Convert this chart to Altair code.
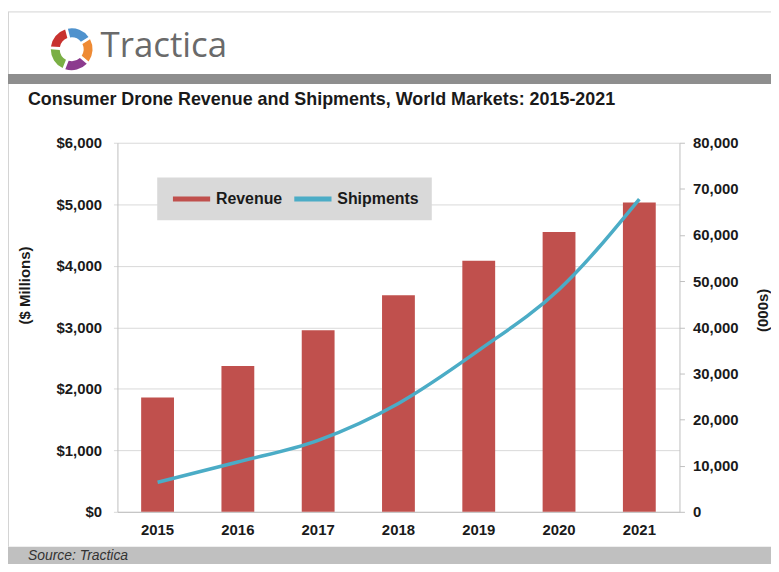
import altair as alt
import pandas as pd

# ---- data ----
years = ["2015", "2016", "2017", "2018", "2019", "2020", "2021"]
revenue = [1860, 2370, 2950, 3520, 4080, 4550, 5030]          # $ millions
shipments = [6400, 10800, 15500, 23500, 35000, 48200, 67800]   # 000s

series_names = ["Revenue", "Shipments"]
series_colors = ["#c0504d", "#4bacc6"]

logo_colors = ["#4f92cd", "#ee8a34", "#8c3b8e", "#7aaf45", "#c8322f"]

title_text = "Consumer Drone Revenue and Shipments, World Markets: 2015-2021"
brand_text = "Tractica"
source_text = "Source: Tractica"

FONT = "Liberation Sans, Arial, sans-serif"

df = pd.DataFrame({"year": years, "revenue": revenue, "shipments": shipments})

color_scale = alt.Scale(domain=series_names, range=series_colors)

x_enc = alt.X(
    "year:N",
    scale=alt.Scale(paddingInner=0, paddingOuter=0),
    axis=alt.Axis(
        title=None, labelAngle=0, ticks=False, tickSize=0, labelPadding=11,
        domainColor="#bfbfbf", labelFont=FONT, labelFontSize=15,
        labelFontWeight="bold", labelColor="#1a1a1a",
    ),
)

legend = alt.Legend(
    title=None, orient="none", legendX=40, legendY=35, direction="horizontal",
    fillColor="#d9d9d9", padding=13, symbolType="stroke", symbolSize=1400,
    symbolStrokeWidth=5, clipHeight=17,
    labelFont=FONT, labelFontSize=16, labelFontWeight="bold",
    labelColor="#1a1a1a", columnPadding=9, labelOffset=3,
)

bars = (
    alt.Chart(df)
    .transform_calculate(series="'Revenue'")
    .mark_bar(size=33)
    .encode(
        x=x_enc,
        y=alt.Y(
            "revenue:Q",
            scale=alt.Scale(domain=[0, 6000], nice=False),
            axis=alt.Axis(
                orient="left", values=list(range(0, 6001, 1000)), format="$,.0f",
                title="($ Millions)", grid=True, gridColor="#d9d9d9",
                domainColor="#bfbfbf", tickColor="#d9d9d9", tickSize=4,
                labelPadding=12, labelFont=FONT, labelFontSize=15,
                labelFontWeight="bold", labelColor="#1a1a1a",
                titleFont=FONT, titleFontSize=15, titleFontWeight="bold",
                titleColor="#1a1a1a", titleAngle=270, titleX=-85, titleY=143,
                titleBaseline="bottom", titleAlign="center",
            ),
        ),
        color=alt.Color("series:N", scale=color_scale, legend=legend),
    )
)

line = (
    alt.Chart(df)
    .transform_calculate(series="'Shipments'")
    .mark_line(strokeWidth=3.5, interpolate="monotone")
    .encode(
        x=x_enc,
        y=alt.Y(
            "shipments:Q",
            scale=alt.Scale(domain=[0, 80000], nice=False),
            axis=alt.Axis(
                orient="right", values=list(range(0, 80001, 10000)), format=",.0f",
                title="(000s)", grid=False, domainColor="#bfbfbf",
                tickColor="#bfbfbf", tickSize=5, labelPadding=8,
                labelFont=FONT, labelFontSize=15, labelFontWeight="bold",
                labelColor="#1a1a1a", titleFont=FONT, titleFontSize=15,
                titleFontWeight="bold", titleColor="#1a1a1a", titleAngle=270,
                titleX=91, titleY=168, titleBaseline="bottom", titleAlign="center",
            ),
        ),
        color=alt.Color("series:N", scale=color_scale, legend=legend),
    )
)

# ---- page decorations (header, title, footer) ----
one = pd.DataFrame({"t": [""]})

top_border = alt.Chart(one).mark_rule(color="#d4d4d4", strokeWidth=1).encode(
    x=alt.value(-110), x2=alt.value(660), y=alt.value(-131.5))
left_border = alt.Chart(one).mark_rule(color="#d4d4d4", strokeWidth=1).encode(
    x=alt.value(-109.5), y=alt.value(-131.5), y2=alt.value(406))
gray_bar = alt.Chart(one).mark_rect(color="#8e8e8e").encode(
    x=alt.value(-110), x2=alt.value(660), y=alt.value(-69), y2=alt.value(-59))
footer = alt.Chart(one).mark_rect(color="#c0c0c0").encode(
    x=alt.value(-110), x2=alt.value(660), y=alt.value(406), y2=alt.value(430))

logo_df = pd.DataFrame({"c": logo_colors, "i": list(range(len(logo_colors))), "v": [1] * len(logo_colors)})
logo = alt.Chart(logo_df).mark_arc(innerRadius=12, outerRadius=21, padAngle=0.12).encode(
    theta=alt.Theta("v:Q", stack=True, scale=alt.Scale(range=[-0.25, 6.0332])),
    order=alt.Order("i:Q"),
    fill=alt.Fill("c:N", scale=None),
    x=alt.value(-46), y=alt.value(-94),
)

brand = alt.Chart(pd.DataFrame({"t": [brand_text]})).mark_text(
    font="Open Sans, Noto Sans, sans-serif", fontSize=35, color="#6a6a6a",
    align="left", baseline="alphabetic",
).encode(text="t:N", x=alt.value(-17), y=alt.value(-86))

title = alt.Chart(pd.DataFrame({"t": [title_text]})).mark_text(
    font=FONT, fontSize=18, fontWeight="bold", color="#1a1a1a",
    align="left", baseline="alphabetic",
).encode(text="t:N", x=alt.value(-90), y=alt.value(-37.5))

source = alt.Chart(pd.DataFrame({"t": [source_text]})).mark_text(
    font=FONT, fontSize=14, fontStyle="italic", color="#333333",
    align="left", baseline="alphabetic",
).encode(text="t:N", x=alt.value(-90), y=alt.value(419))

chart = (
    alt.layer(top_border, left_border, gray_bar, footer, logo, brand, title, source, bars, line)
    .resolve_scale(y="independent")
    .properties(
        width=565, height=371,
        padding={"left": 110, "top": 134, "right": 92, "bottom": 51},
        autosize=alt.AutoSizeParams(type="none"),
    )
    .configure_view(stroke=None)
)

chart.save("out.html", embed_options={"renderer": "svg", "actions": False})
